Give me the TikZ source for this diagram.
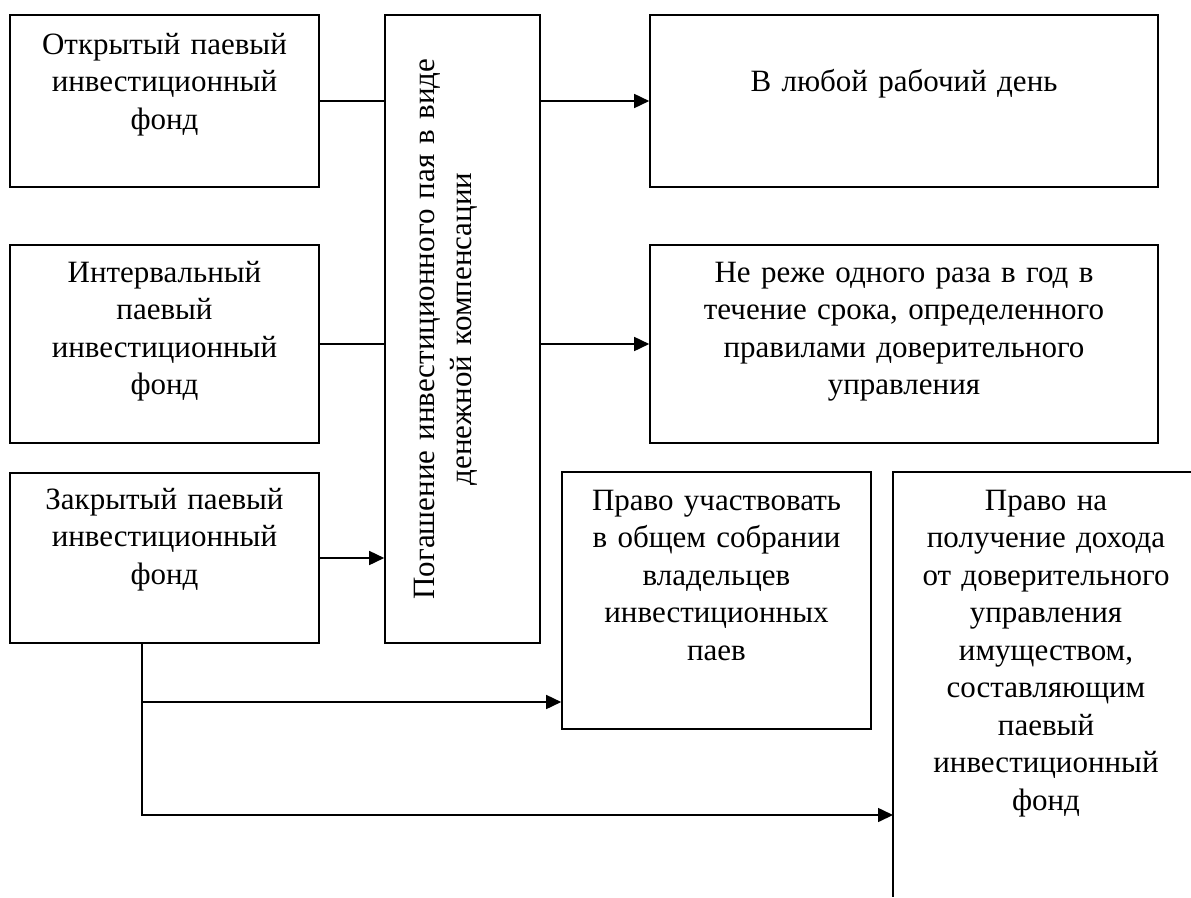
\documentclass[tikz,border=0pt]{standalone}
\usepackage{fontspec}
\setmainfont{Liberation Serif}
\usetikzlibrary{positioning, arrows.meta}

\tikzset{
  box/.style={draw, rectangle, inner sep=0pt},
  txt/.style={anchor=base, align=center, inner sep=0pt, text width=300pt,
    font=\fontsize{31}{37.5}\selectfont},
  arr/.style={-{Triangle[length=15pt,width=14pt]}}
}

\begin{document}
\begin{tikzpicture}[x=1pt, y=-1pt, line width=1.6pt]
        \useasboundingbox (0,0) rectangle (1191,897);
        % fund types
        \node[box, minimum width=309pt, minimum height=172pt] (open) at (164.5,101) {};
        \node[box, minimum width=309pt, minimum height=198pt] (interval) at (164.5,344) {};
        \node[box, minimum width=309pt, minimum height=170pt] (closed) at (164.5,558) {};
        \node[txt] (open-t) at (164.5,54) {Открытый паевый\\инвестиционный\\фонд};
        \node[txt] (interval-t) at (164.5,282) {Интервальный\\паевый\\инвестиционный\\фонд};
        \node[txt] (closed-t) at (164.5,509) {Закрытый паевый\\инвестиционный\\фонд};
        % redemption
        \node[box, minimum width=155pt, minimum height=628pt] (redeem) at (462.5,329) {};
        \node[txt, rotate=90, text width=620pt] (redeem-t) at (434,329)
          {Погашение инвестиционного пая в виде\\денежной компенсации};
        % terms
        \node[box, minimum width=508pt, minimum height=172pt] (anyday) at (904,101) {};
        \node[box, minimum width=508pt, minimum height=198pt] (yearly) at (904,344) {};
        \node[txt, text width=500pt] (anyday-t) at (904,91) {В любой рабочий день};
        \node[txt, text width=500pt] (yearly-t) at (904,282)
          {Не реже одного раза в год в\\течение срока, определенного\\правилами доверительного\\управления};
        % rights of the closed fund
        \node[box, minimum width=309pt, minimum height=257pt] (vote) at (716.5,600.5) {};
        \node[txt] (vote-t) at (716.5,510)
          {Право участвовать\\в общем собрании\\владельцев\\инвестиционных\\паев};
        \draw (1191,472) -| (893,897);
        \coordinate (income) at (893,815);
        \node[txt] (income-t) at (1046,510)
          {Право на\\получение дохода\\от доверительного\\управления\\имуществом,\\составляющим\\паевый\\инвестиционный\\фонд};

        % Now the connectors
        \draw (open) -- (open -| redeem.west);
        \draw (interval) -- (interval -| redeem.west);
        \draw[arr] (closed) -- (closed -| redeem.west);
        \draw[arr] (redeem.east |- anyday) -- (anyday);
        \draw[arr] (redeem.east |- yearly) -- (yearly);
        \coordinate (trunk) at (142,643);
        \coordinate (fork) at (142,702);
        \draw[arr] (trunk) |- (income);
        \draw[arr] (fork) -- (fork -| vote.west);
    \end{tikzpicture}
\end{document}
